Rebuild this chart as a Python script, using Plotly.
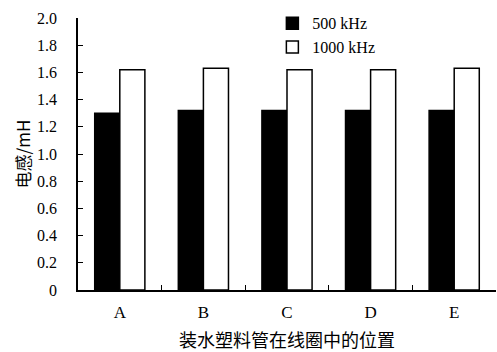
import plotly.graph_objects as go

categories = ["A", "B", "C", "D", "E"]
values_500 = [1.30, 1.32, 1.32, 1.32, 1.32]
values_1000 = [1.62, 1.63, 1.62, 1.62, 1.63]
y_ticks = [0, 0.2, 0.4, 0.6, 0.8, 1.0, 1.2, 1.4, 1.6, 1.8, 2.0]
y_tick_text = ["0", "0.2", "0.4", "0.6", "0.8", "1.0", "1.2", "1.4", "1.6", "1.8", "2.0"]

font_fam = "Liberation Serif, Noto Sans CJK SC, serif"

fig = go.Figure()
fig.add_trace(go.Bar(x=categories, y=values_500, name="500 kHz",
                     marker=dict(color="black", line=dict(color="black", width=1.5))))
fig.add_trace(go.Bar(x=categories, y=values_1000, name="1000 kHz",
                     marker=dict(color="white", line=dict(color="black", width=1.5))))

fig.update_layout(
    width=497, height=352,
    margin=dict(l=78, r=1, t=18, b=62),
    paper_bgcolor="white", plot_bgcolor="white",
    barmode="group", bargap=0.4, bargroupgap=0,
    font=dict(family=font_fam, size=16, color="black"),
    legend=dict(x=0.465, y=1.043, xanchor="left", yanchor="top",
                bgcolor="rgba(0,0,0,0)", font=dict(size=16),
                itemwidth=30, tracegroupgap=0),
    xaxis=dict(showline=True, linecolor="black", linewidth=1.5,
               ticks="inside", tickson="boundaries", ticklen=5,
               tickcolor="black", range=[-0.5, 4.5], automargin=False,
               ticklabelstandoff=6,
               title=dict(text="装水塑料管在线圈中的位置", standoff=14,
                          font=dict(family="Noto Sans CJK SC", size=18)),
               tickfont=dict(size=17)),
    yaxis=dict(showline=True, linecolor="black", linewidth=1.5,
               ticks="inside", ticklen=5, tickcolor="black",
               range=[0, 2.0], tickvals=y_ticks, ticktext=y_tick_text,
               showgrid=False, zeroline=False, automargin=False,
               ticklabelstandoff=16,
               title=dict(text="电感/mH", standoff=2,
                          font=dict(family="Noto Sans CJK SC, Liberation Serif", size=17)),
               tickfont=dict(size=16)),
)
fig.write_html("out.html", config={"displayModeBar": False},
               post_script="document.body.style.margin='0';")
